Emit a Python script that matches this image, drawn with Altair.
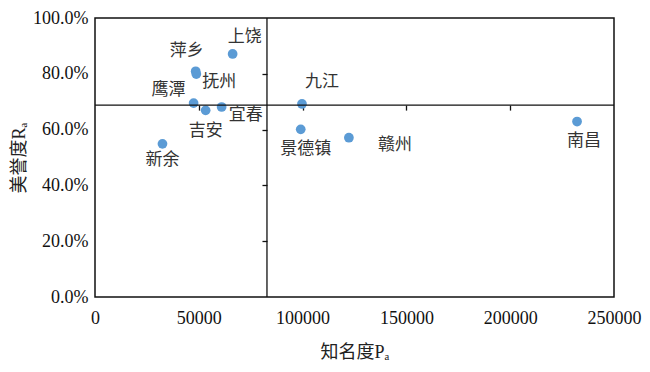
import altair as alt
import pandas as pd

# ---- data ----
cities = ["上饶", "萍乡", "抚州", "鹰潭", "吉安", "宜春", "新余", "九江", "景德镇", "赣州", "南昌"]
popularity = [66300, 48500, 48800, 47500, 53300, 61000, 32500, 99700, 99100, 122300, 232200]
reputation = [0.871, 0.809, 0.799, 0.695, 0.669, 0.681, 0.549, 0.692, 0.601, 0.571, 0.629]

x_ticks = [0, 50000, 100000, 150000, 200000, 250000]
y_ticks = [0, 0.2, 0.4, 0.6, 0.8, 1.0]

# label offsets (style: dx, dy in px)
label_offsets = {
    "上饶": (12, -17), "萍乡": (-9, -20), "抚州": (23, 8), "鹰潭": (-25, -13),
    "吉安": (0, 21), "宜春": (24, 8), "新余": (0, 16), "九江": (20, -22),
    "景德镇": (5, 20), "赣州": (46, 7), "南昌": (7, 19),
}

df = pd.DataFrame({"city": cities, "P": popularity, "R": reputation})

W, H = 519, 279
NUM_FONT = "Liberation Serif"
CJK_FONT = "Noto Sans CJK SC"
TITLE_FONT = "Liberation Serif, DejaVu Serif, Noto Sans CJK SC"

xs = alt.Scale(domain=[0, 250000], nice=False)
ys = alt.Scale(domain=[0, 1], nice=False)

base = alt.Chart(df)

points = base.mark_circle(size=95, color="#5B9BD5", opacity=1).encode(
    x=alt.X("P:Q", scale=xs,
            axis=alt.Axis(values=x_ticks, format="d", ticks=False, domain=False, grid=False,
                          labelFlush=False,
                          labelFont=NUM_FONT, labelFontSize=18, labelColor="#111",
                          labelPadding=12, title="知名度Pₐ", titleFont=TITLE_FONT,
                          titleFontSize=18, titleFontWeight="normal", titleColor="#222",
                          titlePadding=16)),
    y=alt.Y("R:Q", scale=ys,
            axis=alt.Axis(values=y_ticks, format=".1%", ticks=False, domain=False, grid=False,
                          labelFlush=False,
                          labelFont=NUM_FONT, labelFontSize=18, labelColor="#111",
                          labelPadding=7, title="美誉度Rₐ", titleFont=TITLE_FONT,
                          titleFontSize=18, titleFontWeight="normal", titleColor="#222",
                          titlePadding=4)),
)

mean_p = sum(popularity) / len(popularity)
mean_r = sum(reputation) / len(reputation)

hrule = base.mark_rule(color="#111", strokeWidth=1.3).encode(
    y=alt.Y("mean(R):Q", scale=ys, axis=None)
)
vrule = base.mark_rule(color="#111", strokeWidth=1.3).encode(
    x=alt.X("mean(P):Q", scale=xs, axis=None)
)

# tick marks sitting on the crossing lines (Excel-style axes crossing at the means)
tick_axes = base.mark_circle(opacity=0).encode(
    x=alt.X("P:Q", scale=xs,
            axis=alt.Axis(orient="bottom", values=x_ticks[1:-1], labels=False, domain=False,
                          grid=False, ticks=True, tickSize=5, tickColor="#111", tickWidth=1.3,
                          title=None, offset=-H * mean_r)),
    y=alt.Y("R:Q", scale=ys,
            axis=alt.Axis(orient="left", values=y_ticks[1:-1], labels=False, domain=False,
                          grid=False, ticks=True, tickSize=5, tickColor="#111", tickWidth=1.3,
                          title=None, offset=-W * mean_p / 250000)),
)

label_layers = []
for c in cities:
    dx, dy = label_offsets[c]
    label_layers.append(
        base.transform_filter(alt.datum.city == c).mark_text(
            font=CJK_FONT, fontSize=17, color="#333", dx=dx, dy=dy,
            align="center", baseline="middle"
        ).encode(
            x=alt.X("P:Q", scale=xs, axis=None),
            y=alt.Y("R:Q", scale=ys, axis=None),
            text="city:N",
        )
    )

chart = alt.layer(points, tick_axes, hrule, vrule, *label_layers).resolve_axis(
    x="independent", y="independent"
).properties(
    width=W, height=H,
    autosize=alt.AutoSizeParams(type="none"),
    padding={"left": 87, "top": 10, "right": 28, "bottom": 70},
    background="white",
).configure_view(stroke="#111", strokeWidth=1.5)

chart.save("out.html", embed_options={"renderer": "svg", "actions": False})
